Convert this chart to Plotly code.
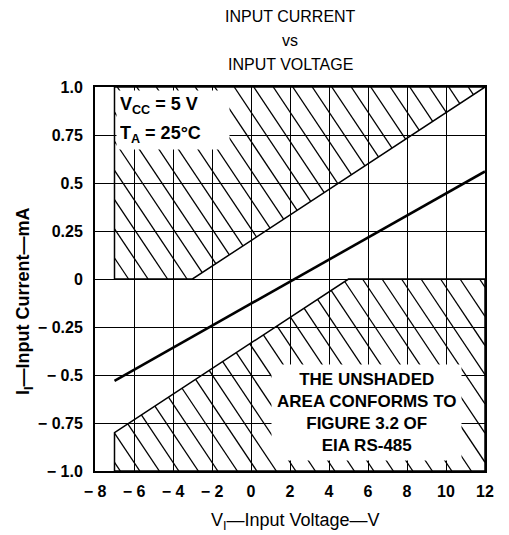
import numpy as np
import plotly.graph_objects as go

# ---- data ----
title_lines = ["INPUT CURRENT", "vs", "INPUT VOLTAGE"]
x_ticks = [-8, -6, -4, -2, 0, 2, 4, 6, 8, 10, 12]
x_ticktext = ["\u2212 8", "\u2212 6", "\u2212 4", "\u2212 2", "0", "2", "4", "6", "8", "10", "12"]
y_ticks = [1.0, 0.75, 0.5, 0.25, 0, -0.25, -0.5, -0.75, -1.0]
y_ticktext = ["1.0", "0.75", "0.5", "0.25", "0", "\u2212 0.25", "\u2212 0.5", "\u2212 0.75", "\u2212 1.0"]

# shaded (non-conforming) regions, EIA RS-485 fig 3.2
upper_region_v = [-7, -7, -3, 12]
upper_region_i = [1.0, 0.0, 0.0, 1.0]
lower_region_v = [-7, -7, 5, 12, 12]
lower_region_i = [-1.0, -0.8, 0.0, 0.0, -1.0]

# measured device characteristic
device_v = [-7, 12]
device_i = [-0.53, 0.56]

hatch_slope = -0.152      # mA per V
hatch_step = 1.0          # V between hatch lines
hatch_phase = 0.72

FONT = "Liberation Sans, Arial, Helvetica, sans-serif"

# figure geometry (page body has an 8 px margin)
W, H = 501, 527
ML, MR, MT, MB = 87, 24, 79, 64
PW, PH = W - ML - MR, H - MT - MB
OFF = 8  # page offset


def px_x(xpix):
    return (xpix - OFF - ML) / PW


def px_y(ypix):
    return (H - MB - (ypix - OFF)) / PH


def clip_line(p0, d, vx, vy):
    """Cyrus-Beck clip of infinite line p0 + t d against convex polygon."""
    pts = np.column_stack([vx, vy]).astype(float)
    cen = pts.mean(axis=0)
    tmin, tmax = -1e9, 1e9
    n_pts = len(pts)
    for k in range(n_pts):
        a = pts[k]
        b = pts[(k + 1) % n_pts]
        e = b - a
        n = np.array([-e[1], e[0]])
        if np.dot(n, cen - a) < 0:
            n = -n
        num = np.dot(n, p0 - a)
        den = np.dot(n, d)
        if abs(den) < 1e-12:
            if num < 0:
                return None
            continue
        t = -num / den
        if den > 0:
            tmin = max(tmin, t)
        else:
            tmax = min(tmax, t)
    if tmin >= tmax:
        return None
    return p0 + tmin * d, p0 + tmax * d


def hatch(vx, vy):
    xs, ys = [], []
    d = np.array([1.0, hatch_slope])
    for c in np.arange(-30, 40, hatch_step) + hatch_phase:
        seg = clip_line(np.array([c, 0.0]), d, vx, vy)
        if seg is None:
            continue
        (x0, y0), (x1, y1) = seg
        xs += [x0, x1, None]
        ys += [y0, y1, None]
    return xs, ys


fig = go.Figure()

for rv, ri in [(upper_region_v, upper_region_i), (lower_region_v, lower_region_i)]:
    hx, hy = hatch(rv, ri)
    fig.add_trace(go.Scatter(x=hx, y=hy, mode="lines",
                             line=dict(color="black", width=1.3),
                             hoverinfo="skip", showlegend=False))
    fig.add_trace(go.Scatter(x=list(rv) + [rv[0]], y=list(ri) + [ri[0]], mode="lines",
                             line=dict(color="black", width=1.5),
                             hoverinfo="skip", showlegend=False))

fig.add_trace(go.Scatter(x=device_v, y=device_i, mode="lines",
                         line=dict(color="black", width=2.6),
                         showlegend=False))

axis_common = dict(
    showgrid=True, gridcolor="black", gridwidth=1.4,
    zeroline=False, showline=True, linecolor="black", linewidth=2,
    mirror=True, ticks="",
    tickfont=dict(family=FONT, size=16, color="black", weight="bold"),
)

fig.update_xaxes(range=[-8, 12], tickvals=x_ticks, ticktext=x_ticktext,
                 ticklabelstandoff=5, **axis_common)
fig.update_yaxes(range=[-1, 1], tickvals=y_ticks, ticktext=y_ticktext,
                 ticklabelstandoff=7, **axis_common)

annotations = []
for t, ypix in zip(title_lines, [16, 41, 65]):
    annotations.append(dict(text=t, xref="paper", yref="paper", x=px_x(290),
                            y=px_y(ypix), xanchor="center", yanchor="middle",
                            showarrow=False,
                            font=dict(family=FONT, size=16, color="black")))

annotations.append(dict(text="V<sub>I</sub>\u2014Input Voltage\u2014V",
                        xref="paper", yref="paper", x=px_x(295),
                        y=px_y(521), xanchor="center", yanchor="middle",
                        showarrow=False,
                        font=dict(family=FONT, size=18, color="black")))
annotations.append(dict(text="I<sub>I</sub>\u2014Input Current\u2014mA",
                        xref="paper", yref="paper", x=px_x(24),
                        y=px_y(301), xanchor="center", yanchor="middle",
                        textangle=-90, showarrow=False,
                        font=dict(family=FONT, size=18, color="black", weight="bold")))

annotations.append(dict(text="V<sub>CC</sub> = 5 V", xref="paper", yref="paper",
                        x=px_x(116), y=px_y(106),
                        xanchor="left", yanchor="middle", showarrow=False,
                        bgcolor="white", borderpad=3, width=106, align="left",
                        font=dict(family=FONT, size=18, color="black", weight="bold")))
annotations.append(dict(text="T<sub>A</sub> = 25\u00b0C", xref="paper", yref="paper",
                        x=px_x(116), y=px_y(134),
                        xanchor="left", yanchor="middle", showarrow=False,
                        bgcolor="white", borderpad=3, width=106, align="left",
                        font=dict(family=FONT, size=18, color="black", weight="bold")))

annotations.append(dict(text="THE UNSHADED<br>AREA CONFORMS TO<br>FIGURE 3.2 OF<br>EIA RS-485",
                        xref="paper", yref="paper",
                        x=px_x(366), y=px_y(412),
                        xanchor="center", yanchor="middle", showarrow=False,
                        bgcolor="white", borderpad=5, align="center",
                        font=dict(family=FONT, size=17, color="black", weight="bold")))

fig.update_layout(
    width=W, height=H,
    margin=dict(l=ML, r=MR, t=MT, b=MB),
    paper_bgcolor="white", plot_bgcolor="white",
    annotations=annotations,
    showlegend=False,
)

fig.write_html("out.html")
